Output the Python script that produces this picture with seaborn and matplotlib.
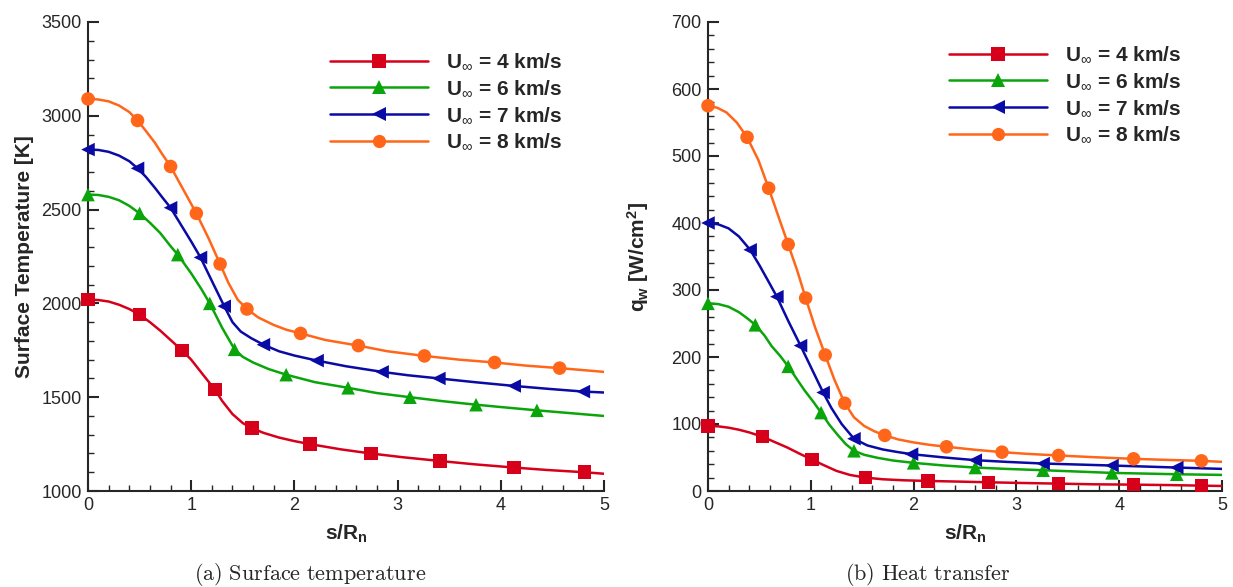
import pandas as pd
import matplotlib
matplotlib.use('Agg')
import matplotlib.pyplot as plt
from matplotlib.lines import Line2D
from matplotlib.ticker import MultipleLocator
import seaborn as sns

speeds = ['4', '6', '7', '8']
colors = ['#d7001a', '#0aa50a', '#0a0aa5', '#ff6619']
marks = ['s', '^', '<', 'o']

# (a) surface temperature -- marker points, then extra points
t4_mx = [0, 0.50, 0.91, 1.23, 1.59, 2.15, 2.74, 3.41, 4.13, 4.81]
t4_my = [2020, 1940, 1750, 1540, 1335, 1250, 1200, 1160, 1125, 1100]
t4_cx = [0.1, 0.2, 0.3, 0.4, 0.6, 0.7, 0.8, 1.0, 1.1, 1.3, 1.4, 1.5, 1.7, 1.85, 2.0,
         2.45, 3.05, 3.75, 4.45, 5.0]
t4_cy = [2018, 2010, 1993, 1970, 1900, 1855, 1805, 1700, 1630, 1480, 1410, 1362, 1310,
         1285, 1266, 1222, 1180, 1142, 1112, 1092]

t6_mx = [0, 0.50, 0.87, 1.18, 1.42, 1.92, 2.52, 3.12, 3.76, 4.35]
t6_my = [2580, 2480, 2260, 2000, 1755, 1620, 1550, 1500, 1460, 1430]
t6_cx = [0.1, 0.2, 0.3, 0.4, 0.6, 0.7, 0.8, 1.0, 1.1, 1.3, 1.5, 1.6, 1.75, 2.2, 2.8,
         3.45, 4.05, 5.0]
t6_cy = [2578, 2568, 2550, 2520, 2430, 2375, 2305, 2160, 2075, 1870, 1715, 1685, 1650,
         1580, 1522, 1478, 1445, 1400]

t7_mx = [0, 0.48, 0.80, 1.09, 1.32, 1.70, 2.22, 2.85, 3.40, 4.13, 4.80]
t7_my = [2820, 2720, 2510, 2245, 1985, 1780, 1695, 1635, 1600, 1560, 1530]
t7_cx = [0.1, 0.2, 0.3, 0.4, 0.56, 0.65, 0.72, 0.9, 1.0, 1.2, 1.4, 1.48, 1.58, 1.85,
         2.0, 2.5, 3.1, 3.75, 4.45, 5.0]
t7_cy = [2818, 2808, 2788, 2758, 2675, 2615, 2565, 2420, 2330, 2120, 1900, 1850, 1815,
         1745, 1722, 1665, 1617, 1580, 1545, 1525]

t8_mx = [0, 0.48, 0.80, 1.05, 1.28, 1.54, 2.06, 2.62, 3.26, 3.94, 4.57]
t8_my = [3090, 2975, 2730, 2480, 2210, 1970, 1840, 1775, 1720, 1685, 1655]
t8_cx = [0.1, 0.2, 0.3, 0.4, 0.56, 0.65, 0.72, 0.92, 1.17, 1.36, 1.45, 1.65, 1.8, 1.92,
         2.3, 2.9, 3.6, 4.25, 5.0]
t8_cy = [3087, 3077, 3055, 3020, 2920, 2855, 2795, 2610, 2345, 2110, 2020, 1925, 1885,
         1860, 1805, 1745, 1700, 1668, 1635]

# (b) heat transfer
q4_mx = [0, 0.53, 1.01, 1.53, 2.14, 2.73, 3.41, 4.14, 4.80]
q4_my = [97, 81, 47, 20, 15, 13, 11, 9.5, 8]
q4_cx = [0.1, 0.2, 0.3, 0.4, 0.65, 0.77, 0.9, 1.12, 1.25, 1.38, 1.7, 1.9, 2.45, 3.05,
         3.75, 4.5, 5.0]
q4_cy = [96.5, 94.5, 91.5, 87.5, 73, 65, 55, 39, 30, 24, 17.5, 16, 14, 12, 10, 8.8, 7.5]

q6_mx = [0, 0.46, 0.78, 1.10, 1.42, 2.0, 2.6, 3.26, 3.93, 4.56]
q6_my = [280, 248, 186, 117, 60, 42, 35, 31, 27, 25]
q6_cx = [0.1, 0.2, 0.3, 0.38, 0.55, 0.62, 0.7, 0.86, 0.94, 1.02, 1.18, 1.26, 1.34, 1.52,
         1.65, 1.8, 2.3, 2.9, 3.6, 4.25, 5.0]
q6_cy = [279, 275, 267, 258, 232, 216, 202, 168, 150, 134, 99, 84, 70, 54, 49.5, 45.5,
         38, 33, 29, 26, 24]

q7_mx = [0, 0.41, 0.67, 0.90, 1.12, 1.42, 1.98, 2.6, 3.26, 3.93, 4.56]
q7_my = [400, 360, 290, 217, 147, 78, 55, 46, 41, 38, 35]
q7_cx = [0.1, 0.2, 0.3, 0.5, 0.58, 0.78, 1.01, 1.2, 1.3, 1.55, 1.7, 1.85, 2.3, 2.9, 3.6,
         4.25, 5.0]
q7_cy = [398, 392, 380, 337, 315, 254, 182, 124, 100, 68, 62, 58, 50, 43.5, 39.5, 36.5,
         33]

q8_mx = [0, 0.38, 0.59, 0.78, 0.95, 1.14, 1.33, 1.72, 2.32, 2.86, 3.41, 4.14, 4.80]
q8_my = [575, 528, 452, 368, 288, 203, 131, 83, 66, 58, 53, 48, 45]
q8_cx = [0.09, 0.18, 0.28, 0.49, 0.68, 0.87, 1.04, 1.23, 1.42, 1.52, 1.62, 1.85, 2.0,
         2.15, 2.6, 3.1, 3.75, 4.45, 5.0]
q8_cy = [572, 565, 550, 494, 412, 328, 245, 166, 110, 97, 89, 77, 72.5, 69, 61.5, 55.5,
         50.5, 46.5, 43.5]

temp_series = [(t4_mx, t4_my, t4_cx, t4_cy), (t6_mx, t6_my, t6_cx, t6_cy),
               (t7_mx, t7_my, t7_cx, t7_cy), (t8_mx, t8_my, t8_cx, t8_cy)]
heat_series = [(q4_mx, q4_my, q4_cx, q4_cy), (q6_mx, q6_my, q6_cx, q6_cy),
               (q7_mx, q7_my, q7_cx, q7_cy), (q8_mx, q8_my, q8_cx, q8_cy)]


def build(series):
    lines, pts = [], []
    for sp, (mx, my, cx, cy) in zip(speeds, series):
        pts.append(pd.DataFrame({'s': mx, 'v': my, 'U': sp}))
        lines.append(pd.DataFrame({'s': mx + cx, 'v': my + cy, 'U': sp}))
    return pd.concat(lines), pd.concat(pts)


sns.set_style('ticks')
plt.rcParams['font.family'] = ['Liberation Sans', 'DejaVu Sans']
plt.rcParams['mathtext.fontset'] = 'custom'
plt.rcParams['mathtext.rm'] = 'Liberation Sans'
plt.rcParams['mathtext.bf'] = 'Liberation Sans:bold'
plt.rcParams['mathtext.it'] = 'Liberation Sans:italic'

pal = dict(zip(speeds, colors))
mk = dict(zip(speeds, marks))

W, H = 1233, 587
fig = plt.figure(figsize=(W / 100, H / 100), dpi=100)
ax1 = fig.add_axes([88 / W, 1 - 491 / H, 516 / W, 469 / H])
ax2 = fig.add_axes([708 / W, 1 - 491 / H, 514 / W, 469 / H])

for ax, series in [(ax1, temp_series), (ax2, heat_series)]:
    line_df, pt_df = build(series)
    sns.lineplot(data=line_df, x='s', y='v', hue='U', hue_order=speeds, palette=pal,
                 estimator=None, sort=True, lw=1.8, legend=False, ax=ax)
    sns.scatterplot(data=pt_df, x='s', y='v', hue='U', style='U', hue_order=speeds,
                    style_order=speeds, palette=pal, markers=mk, s=95, linewidth=0,
                    legend=False, ax=ax, clip_on=False, zorder=3)
    ax.set_xlim(0, 5)
    ax.xaxis.set_major_locator(MultipleLocator(1))
    ax.xaxis.set_minor_locator(MultipleLocator(0.2))
    ax.tick_params(which='major', direction='in', length=8, width=1.5, labelsize=13, pad=4.5)
    ax.tick_params(which='minor', direction='in', length=4, width=1)
    sns.despine(ax=ax)
    for side in ['left', 'bottom']:
        ax.spines[side].set_linewidth(1.5)
    ax.set_xlabel(r'$\mathbf{s/R_n}$', fontsize=15)
    ax.xaxis.set_label_coords(0.5, -0.068)

    handles = [Line2D([], [], color=c, marker=m, lw=1.8, ms=9.5, markeredgewidth=0)
               for c, m in zip(colors, marks)]
    labels = [r'$\mathbf{U}_{\infty}$ = %s km/s' % sp for sp in speeds]
    ax.legend(handles, labels, frameon=False, loc='upper left',
              prop={'weight': 'bold', 'size': 15}, handlelength=4.7,
              handletextpad=0.85, labelspacing=0.31, borderpad=0, borderaxespad=0,
              bbox_transform=fig.transFigure,
              bbox_to_anchor=((330 if ax is ax1 else 949) / W,
                              1 - (52 if ax is ax1 else 45) / H))

ax1.set_ylim(1000, 3500)
ax1.yaxis.set_major_locator(MultipleLocator(500))
ax1.yaxis.set_minor_locator(MultipleLocator(100))
ax1.set_ylabel('Surface Temperature [K]', fontweight='bold', fontsize=15)
ax1.yaxis.set_label_coords(-0.105, 0.5)

ax2.set_ylim(0, 700)
ax2.yaxis.set_major_locator(MultipleLocator(100))
ax2.yaxis.set_minor_locator(MultipleLocator(20))
ax2.set_ylabel(r'$\mathbf{q_w}$ [W/cm$^\mathbf{2}$]', fontweight='bold', fontsize=15)
ax2.yaxis.set_label_coords(-0.111, 0.5)

fig.text(310 / W, 1 - 575 / H, r'$\mathrm{(a)\ Surface\ temperature}$',
         ha='center', va='center', fontsize=16, math_fontfamily='cm')
fig.text(928 / W, 1 - 575 / H, r'$\mathrm{(b)\ Heat\ transfer}$',
         ha='center', va='center', fontsize=16, math_fontfamily='cm')

fig.savefig('out.png', dpi=100)
